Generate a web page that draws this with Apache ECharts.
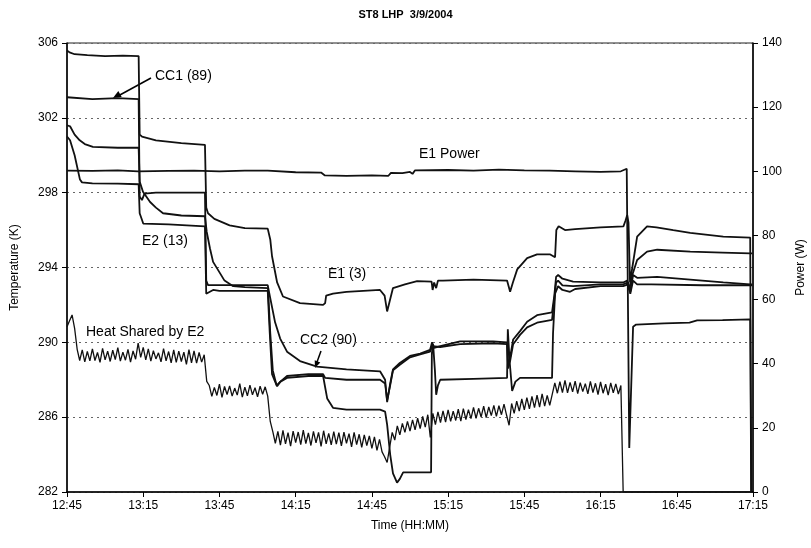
<!DOCTYPE html>
<html>
<head>
<meta charset="utf-8">
<title>ST8 LHP 3/9/2004</title>
<script src="https://cdn.jsdelivr.net/npm/echarts@6/dist/echarts.min.js"></script>
<style>
  html, body { margin: 0; padding: 0; background: #fff; }
  #main { width: 811px; height: 548px; }
</style>
</head>
<body>
<div id="main"></div>
<script>
// time axis = minutes after 12:45
var timeTicks = [0, 30, 60, 90, 120, 150, 180, 210, 240, 270];
var tempTicks = [282, 286, 290, 294, 298, 302, 306];
var powerTicks = [0, 20, 40, 60, 80, 100, 120, 140];

// E1 (3) temperature [min, K]
var e1Temp = [[0,305.6],[1,305.5],[3,305.4],[8,305.35],[15,305.3],[22,305.32],[28.2,305.3],
  [28.6,301.1],[29.5,301.0],[35,300.8],[45,300.65],[54.3,300.56],
  [54.8,297.2],[55.5,296.9],[58,296.6],[64,296.25],[70,296.1],[79,296.08],
  [80,295.5],[80.7,294.6],[82.7,293.2],[85,292.45],[91.7,292.1],[100.8,292.0],
  [101.6,292.1],[102,292.5],[104.7,292.6],[110,292.7],[123.2,292.8],[125,292.5],[126,291.65],[127,292.2],
  [128.3,292.9],[133,293.1],[137.8,293.27],[143.5,293.25],[143.9,292.8],[144.5,293.2],[145.3,292.9],[146,293.3],
  [148,293.3],[160,293.35],[173.2,293.3],[174.4,292.7],[175.5,293.2],[177.2,293.9],[181.1,294.5],[185,294.7],
  [190.2,294.7],[192.1,294.55],[192.6,296.0],[193.5,296.2],[196,296.0],[200,296.05],[210,296.15],[219,296.2],
  [219.8,296.5],[220.5,296.8],[221,296.4],[221.6,293.2],[222.5,294.0],[224.4,295.65],[228.3,296.2],[232,296.15],
  [238.6,296.0],[245.3,295.85],[258.3,295.65],[268.9,295.6],[269.3,282]];

// CC1 (89) then CC2 (90) trace [min, K]
var ccTemp = [[0,303.1],[10,303.0],[20,303.05],[28.2,303.0],[28.6,297.8],[29.5,297.6],[30.5,297.95],[35,298.0],
  [45,298.0],[54.3,298.0],[54.8,293.3],[55.5,293.06],[65,293.06],[79,293.06],[79.8,292.5],[81.9,291.07],
  [83.9,290.2],[86.6,289.5],[91.7,289.0],[98.4,288.7],[110,288.55],[123.2,288.45],[125.2,288.0],[126,286.8],
  [127.2,287.8],[128.3,288.55],[131,288.9],[135,289.27],[139,289.4],[142.9,289.6],[143.7,290.0],[144.5,289.7],
  [146.9,289.8],[154.7,290.05],[167.7,290.05],[173.2,290.0],[173.6,288.6],[174.4,289.2],[175.6,290.15],
  [178.3,290.6],[181.1,291.1],[185,291.45],[190.9,291.6],[191.8,292.5],[192.5,293.5],[193.3,293.6],[195,293.4],
  [199.2,293.25],[210,293.2],[218.9,293.2],[220.5,293.3],[221.3,292.8],[222.5,293.6],[224.4,294.4],
  [228.3,294.85],[232.3,294.95],[245.3,294.85],[258,294.8],[268.9,294.75],[269.7,294.75]];

// third temperature trace [min, K]
var tempC = [[0,301.6],[1.2,301.55],[3,301.1],[5,300.8],[7,300.6],[10.2,300.45],[20,300.4],[28.2,300.4],
  [28.6,298.6],[29.9,298.05],[32.7,297.5],[35,297.2],[37.8,296.9],[45,296.78],[54.3,296.74],
  [55,295.9],[56.3,295.0],[57.5,294.3],[60.2,293.7],[62,293.3],[65.4,293.0],[70,292.95],[79.1,292.9],
  [80,290.5],[81,288.5],[82.5,287.7],[84,287.9],[86.6,288.1],[95,288.2],[100.8,288.2],[101.6,287.6],
  [102.4,287.0],[104.7,286.5],[110,286.4],[123.2,286.4],[125.2,286.3],[126,285.6],[127.2,284.0],[128.3,283.0],
  [129.9,282.5],[131,282.7],[132.3,283.05],[140,283.05],[143.3,283.05],[143.6,289.4],[144.1,289.9],
  [144.8,288.5],[145.3,287.2],[146,287.7],[146.9,288.0],[160,288.05],[173.2,288.1],[173.5,290.7],
  [174.2,289.0],[175.2,287.4],[176.5,287.9],[178.3,288.1],[190.9,288.1],[191.3,290.5],[192.1,292.6],
  [193.3,293.0],[195,292.8],[198,292.7],[200,292.85],[210,293.0],[218.9,293.0],[220.9,293.1],[221.7,292.6],
  [222.8,293.3],[224.4,293.1],[230,293.1],[250,293.05],[269.7,293.05]];

// E2 (13) temperature [min, K]
var e2Temp = [[0,301.0],[1.2,300.8],[3,300.0],[5.1,298.7],[5.9,298.55],[10,298.5],[20,298.48],[28.2,298.45],
  [28.6,296.9],[29.5,296.55],[30,296.35],[40,296.3],[54.3,296.2],[54.8,292.6],[55.5,292.5],[57.5,292.8],
  [60,292.75],[70,292.75],[79,292.75],[79.8,290.5],[80.7,288.3],[81.9,287.9],[82.7,287.65],[84,287.9],
  [86.6,288.2],[95,288.3],[100.8,288.3],[101.6,288.1],[110,288.0],[123.2,288.0],[125.2,287.8],[126,286.9],
  [127.2,287.7],[128.3,288.5],[131,288.8],[135,289.2],[139,289.35],[142.9,289.5],[143.7,289.8],[146.9,289.75],
  [154.7,289.9],[167.7,289.95],[173.2,289.9],[173.6,288.7],[174.4,289.0],[175.6,289.9],[178.3,290.4],
  [181.1,290.8],[185,291.05],[190.9,291.2],[191.8,292.3],[192.5,293.2],[193.3,293.3],[195,293.05],
  [199.2,293.0],[210,293.1],[218.9,293.1],[220.9,293.2],[221.7,292.7],[222.8,293.6],[224.4,293.45],
  [232.3,293.5],[245.3,293.35],[258.3,293.2],[268.9,293.1],[269.7,293.1]];

// E1 power [min, W]
var e1Power = [[0,100.2],[10,100.1],[20,100.3],[28,100.0],[40,100.1],[50,100.2],[60,100.0],[70,100.2],[79,100.2],
  [79.5,99.6],[90,99.7],[100,99.6],[101.5,98.7],[110,98.6],[120,98.7],[126.5,98.6],[127.5,99.5],[132,99.4],
  [135,99.8],[136,99.2],[137,100.3],[150,100.4],[160,100.2],[170,100.5],[180,100.3],[190,100.2],[200,100.0],
  [210,99.8],[218,100.0],[220.3,100.8],[220.9,100.2],[221.3,13.7],[222.0,13.7],[222.8,51.5],[224,52.2],
  [235,52.6],[245,52.8],[248,53.5],[258,53.6],[268.9,53.8],[269.3,0]];

// Heat shared by E2, one reading per minute from 12:45 [W]
var heatShared = [51.5,53.4,55.2,51.0,44.5,41.0,44.3,40.6,43.8,40.9,
  44.6,41.0,43.5,40.4,44.8,41.2,43.9,40.7,44.2,41.3,
  45.0,40.8,43.6,41.1,44.5,40.5,44.0,41.4,46.4,42.0,
  45.1,41.2,44.6,40.8,44.1,41.5,43.4,40.6,44.7,40.9,
  43.8,40.3,44.3,40.4,43.9,40.7,43.6,39.8,44.4,40.3,
  44.0,40.2,43.5,40.5,42.8,34.5,33.2,29.8,32.6,30.1,
  33.6,29.5,32.9,30.4,33.1,29.9,32.4,30.2,33.8,29.6,
  32.7,30.0,33.3,30.3,32.5,29.7,33.0,30.5,32.8,29.9,
  22.0,18.8,15.2,18.9,14.6,19.2,15.0,18.5,14.3,19.0,
  15.4,18.7,14.8,19.3,15.1,18.4,14.5,18.9,15.3,18.6,
  14.2,19.1,15.0,18.3,14.7,18.8,14.9,18.5,14.4,18.7,
  15.2,18.2,14.1,18.6,14.8,18.0,13.9,17.8,14.5,17.5,
  13.6,17.2,13.0,16.4,12.5,11.0,9.2,14.0,18.6,16.2,
  20.6,17.8,21.4,18.6,22.0,19.0,22.5,19.4,23.0,19.8,
  23.6,20.2,24.1,17.0,24.5,21.0,25.0,21.6,25.3,21.8,
  25.6,22.0,25.2,22.3,25.8,22.1,26.0,22.6,25.7,22.9,
  26.4,23.0,26.1,23.4,26.8,23.2,26.5,23.8,27.0,23.6,
  26.9,24.1,27.4,24.0,20.8,27.6,24.5,28.3,25.2,29.0,
  25.6,29.4,25.9,29.8,26.3,30.2,26.5,30.6,26.8,30.1,
  27.0,30.5,34.0,30.8,34.4,31.0,34.8,30.9,34.2,31.2,
  34.6,30.7,34.1,31.3,33.8,30.6,34.5,31.0,33.9,30.4,
  34.3,30.8,33.6,30.2,34.0,30.9,33.7,30.5,33.2];
var heatTail = [[218.9,0],[269.6,0]];

function hhmm(t){
  var m = 12*60 + 45 + t;
  var h = Math.floor(m/60), mm = m % 60;
  return h + ':' + (mm < 10 ? '0' : '') + mm;
}

window.onload = function(){
  var myChart = echarts.init(document.getElementById('main'), null, {renderer: 'canvas'});
  var ink = '#111';
  var lbl = {color: '#000', fontFamily: 'Liberation Sans, Arial', fontSize: 12};

  function tempLine(name, d){
    return {name: name, type: 'line', yAxisIndex: 0, data: d, symbol: 'none',
      lineStyle: {color: ink, width: 1.8}, silent: true};
  }

  var heatData = heatShared.map(function(v, i){ return [i, v]; }).concat(heatTail);

  var option = {
    animation: false,
    title: {
      text: 'ST8 LHP  3/9/2004', left: 'center', top: 4,
      textStyle: {fontSize: 11, fontWeight: 'bold', color: '#000', fontFamily: 'Liberation Sans, Arial'}
    },
    grid: {left: 67, right: 58, top: 43, bottom: 56, show: true, borderColor: '#222', borderWidth: 1,
      outerBoundsMode: 'none'},
    xAxis: {
      type: 'value', min: timeTicks[0], max: timeTicks[timeTicks.length-1], interval: 30,
      name: 'Time (HH:MM)', nameLocation: 'middle', nameGap: 28, nameTextStyle: lbl,
      axisLine: {lineStyle: {color: '#000', width: 1.5}},
      axisTick: {length: 5, lineStyle: {color: '#000'}},
      axisLabel: Object.assign({margin: 8, formatter: function(v){ return hhmm(v); }}, lbl),
      splitLine: {show: false}
    },
    yAxis: [{
      type: 'value', position: 'left', min: tempTicks[0], max: tempTicks[tempTicks.length-1], interval: 4,
      name: 'Temperature (K)', nameLocation: 'middle', nameGap: 46, nameRotate: 90, nameTextStyle: lbl,
      axisLine: {show: true, lineStyle: {color: '#000', width: 1.5}},
      axisTick: {show: true, length: 5, lineStyle: {color: '#000'}},
      axisLabel: Object.assign({margin: 9}, lbl),
      splitLine: {show: true, lineStyle: {color: '#666', width: 1, type: [2, 4]}}
    }, {
      type: 'value', position: 'right', min: powerTicks[0], max: powerTicks[powerTicks.length-1], interval: 20,
      name: 'Power (W)', nameLocation: 'middle', nameGap: 42, nameRotate: 90, nameTextStyle: lbl,
      axisLine: {show: true, lineStyle: {color: '#000', width: 1.5}},
      axisTick: {show: true, length: 5, lineStyle: {color: '#000'}},
      axisLabel: Object.assign({margin: 9}, lbl),
      splitLine: {show: false}
    }],
    series: [
      tempLine('E1 (3)', e1Temp),
      tempLine('CC1 (89) / CC2 (90)', ccTemp),
      tempLine('T3', tempC),
      tempLine('E2 (13)', e2Temp),
      {name: 'E1 Power', type: 'line', yAxisIndex: 1, data: e1Power, symbol: 'none',
        lineStyle: {color: ink, width: 1.8}, silent: true},
      {name: 'Heat Shared by E2', type: 'line', yAxisIndex: 1, data: heatData, symbol: 'none',
        lineStyle: {color: '#111', width: 1.3}, silent: true}
    ],
    graphic: [
      {type: 'text', x: 155, y: 76, style: {text: 'CC1 (89)', font: '14px Liberation Sans, Arial', fill: '#000', textVerticalAlign: 'middle'}},
      {type: 'line', shape: {x1: 151, y1: 78, x2: 118, y2: 96}, style: {stroke: '#000', lineWidth: 1.5}},
      {type: 'polygon', shape: {points: [[113, 98], [121.7, 97], [118.3, 91]]}, style: {fill: '#000'}},
      {type: 'text', x: 419, y: 154, style: {text: 'E1 Power', font: '14px Liberation Sans, Arial', fill: '#000', textVerticalAlign: 'middle'}},
      {type: 'text', x: 142, y: 241, style: {text: 'E2 (13)', font: '14px Liberation Sans, Arial', fill: '#000', textVerticalAlign: 'middle'}},
      {type: 'text', x: 328, y: 274, style: {text: 'E1 (3)', font: '14px Liberation Sans, Arial', fill: '#000', textVerticalAlign: 'middle'}},
      {type: 'text', x: 300, y: 340, style: {text: 'CC2 (90)', font: '14px Liberation Sans, Arial', fill: '#000', textVerticalAlign: 'middle'}},
      {type: 'line', shape: {x1: 321, y1: 351, x2: 317, y2: 362}, style: {stroke: '#000', lineWidth: 1.5}},
      {type: 'polygon', shape: {points: [[315, 368], [320.3, 362.4], [314.7, 360.3]]}, style: {fill: '#000'}},
      {type: 'text', x: 86, y: 332, style: {text: 'Heat Shared by E2', font: '14px Liberation Sans, Arial', fill: '#000', textVerticalAlign: 'middle'}}
    ]
  };
  myChart.setOption(option);
};
</script>
</body>
</html>
